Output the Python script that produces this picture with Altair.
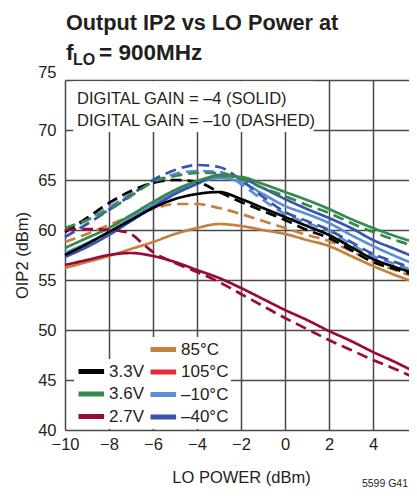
import altair as alt
import pandas as pd

# ---- data ----
XS = [-10, -9, -8, -7, -6, -5, -4, -3, -2, -1, 0, 1, 2, 3, 4, 5, 6]

V33_SOLID = [57.5, 58.6, 59.8, 61.0, 62.2, 63.1, 63.6, 63.8, 63.1, 62.2, 61.3, 60.4, 59.5, 58.3, 57.1, 56.3, 55.6]
V33_DASH = [59.8, 61.2, 62.7, 63.9, 64.7, 65.0, 64.8, 63.8, 62.8, 61.9, 61.0, 60.0, 59.2, 58.0, 56.8, 56.1, 55.4]
V36_SOLID = [58.2, 59.2, 60.2, 61.5, 62.8, 64.0, 64.9, 65.4, 65.3, 64.6, 63.8, 63.0, 62.1, 61.1, 60.2, 59.4, 58.7]
V36_DASH = [60.2, 61.0, 62.0, 63.4, 64.8, 65.4, 65.7, 65.7, 65.1, 64.2, 63.4, 62.5, 61.7, 60.7, 59.8, 59.0, 58.3]
V27_SOLID = [56.5, 57.0, 57.5, 57.7, 57.4, 56.8, 56.0, 55.2, 54.2, 53.1, 52.0, 51.0, 49.9, 48.9, 47.8, 46.8, 45.7]
XS_V27_DASH = [-10, -9, -8, -7.5, -7, -6.5, -6, -5.5, -5, -4, -3, -2, -1, 0, 1, 2, 3, 4, 5, 6]
V27_DASH = [60.0, 60.1, 60.0, 59.9, 59.6, 58.7, 57.8, 57.2, 56.7, 55.8, 54.8, 53.6, 52.4, 51.2, 50.1, 49.0, 48.0, 47.0, 46.1, 45.1]
T85_SOLID = [56.2, 56.8, 57.4, 58.1, 58.8, 59.6, 60.2, 60.6, 60.4, 60.0, 59.6, 59.0, 58.4, 57.4, 56.4, 55.5, 54.7]
T85_DASH = [58.8, 59.6, 60.5, 61.4, 62.1, 62.6, 62.6, 62.2, 61.6, 60.9, 60.2, 59.5, 58.9, 57.9, 56.8, 56.0, 55.2]
TM10_SOLID = [57.7, 58.7, 59.8, 61.2, 62.5, 63.8, 64.7, 65.2, 64.8, 63.6, 62.4, 61.6, 60.7, 59.5, 58.4, 57.4, 56.5]
TM10_DASH = [59.8, 61.0, 62.3, 63.6, 64.8, 65.6, 65.9, 65.8, 64.6, 63.0, 61.6, 60.7, 59.9, 58.6, 57.4, 56.6, 55.8]
TM40_SOLID = [57.3, 58.3, 59.5, 60.9, 62.3, 63.6, 64.6, 65.5, 65.2, 64.2, 63.1, 62.1, 61.2, 60.2, 59.0, 58.1, 57.2]
TM40_DASH = [59.3, 60.6, 62.0, 63.5, 65.0, 66.0, 66.5, 66.3, 65.0, 63.3, 61.8, 60.9, 60.0, 58.8, 57.6, 56.8, 56.0]

V_LABELS = ["3.3V", "3.6V", "2.7V"]
V_COLORS = ["#000000", "#35894b", "#990a3a"]
T_LABELS = ["85°C", "105°C", "–10°C", "–40°C"]
T_COLORS = ["#c5803d", "#e62a3c", "#5b8fd5", "#3953b0"]
GAINS = ["–4", "–10"]

X_TICKS = [-10, -8, -6, -4, -2, 0, 2, 4, 6]
Y_TICKS = [40, 45, 50, 55, 60, 65, 70, 75]

TITLE_1 = "Output IP2 vs LO Power at"
TITLE_F = "f"
TITLE_SUB = "LO"
TITLE_2 = "= 900MHz"
NOTE_LINES = ["DIGITAL GAIN = –4 (SOLID)", "DIGITAL GAIN = –10 (DASHED)"]
CODE = "5599 G41"

rows = []


def add(label, fam, gain, xs, ys):
    for x, y in zip(xs, ys):
        rows.append({"x": x, "y": y, "label": label, "fam": fam, "gain": gain,
                     "key": label + gain})


add("3.3V", "V", "–4", XS, V33_SOLID)
add("3.3V", "V", "–10", XS, V33_DASH)
add("3.6V", "V", "–4", XS, V36_SOLID)
add("3.6V", "V", "–10", XS, V36_DASH)
add("2.7V", "V", "–4", XS, V27_SOLID)
add("2.7V", "V", "–10", XS_V27_DASH, V27_DASH)
add("85°C", "T", "–4", XS, T85_SOLID)
add("85°C", "T", "–10", XS, T85_DASH)
add("–10°C", "T", "–4", XS, TM10_SOLID)
add("–10°C", "T", "–10", XS, TM10_DASH)
add("–40°C", "T", "–4", XS, TM40_SOLID)
add("–40°C", "T", "–10", XS, TM40_DASH)
df = pd.DataFrame(rows)

FONT = "Liberation Sans Narrow, Arial Narrow, Liberation Sans, Arial, sans-serif"
INK = "#231f20"

xscale = alt.Scale(domain=[-10, 6], nice=False, zero=False)
yscale = alt.Scale(domain=[40, 75], nice=False, zero=False)

xenc = alt.X("x:Q", scale=xscale, axis=alt.Axis(
    values=X_TICKS, grid=True, ticks=False, domain=False, labelFlush=False,
    labelFont=FONT, labelFontSize=16.5, labelColor=INK, labelPadding=6,
    title="LO POWER (dBm)", titleFont=FONT, titleFontSize=16.5, titleFontWeight="normal",
    titleColor=INK, titleY=47, titleBaseline="middle",
    gridColor="#4a4a4a", gridWidth=1.5))
yenc = alt.Y("y:Q", scale=yscale, axis=alt.Axis(
    values=Y_TICKS, grid=True, ticks=False, domain=False,
    labelFont=FONT, labelFontSize=16.5, labelColor=INK, labelPadding=9,
    labelBaseline={"condition": {"test": "datum.value === 75", "value": "bottom"}, "value": "middle"},
    title="OIP2 (dBm)", titleFont=FONT, titleFontSize=16.5, titleFontWeight="normal",
    titleColor=INK, titleX=-43, titleY=175, titleBaseline="middle",
    gridColor="#4a4a4a", gridWidth=1.5))

dash = alt.StrokeDash("gain:N", scale=alt.Scale(domain=GAINS, range=[[1, 0], [11, 6]]), legend=None)

LEG_COMMON = dict(orient="none", title=None, fillColor="white",
                  symbolType="M-1,0H2.2", symbolSize=256, symbolStrokeWidth=5,
                  symbolOpacity=1, labelFont=FONT, labelFontSize=17, labelColor=INK,
                  labelOffset=12, rowPadding=1.5, padding=2)

lines_v = alt.Chart(df).transform_filter(alt.datum.fam == "V").mark_line(
    strokeWidth=2.7, interpolate="monotone").encode(
    x=xenc, y=yenc,
    color=alt.Color("label:N", scale=alt.Scale(domain=V_LABELS, range=V_COLORS),
                    legend=alt.Legend(legendX=9, legendY=279, **LEG_COMMON)),
    strokeDash=dash, detail="key:N")

lines_t = alt.Chart(df).transform_filter(alt.datum.fam == "T").mark_line(
    strokeWidth=2.7, interpolate="monotone").encode(
    x=xenc, y=yenc,
    stroke=alt.Stroke("label:N", scale=alt.Scale(domain=T_LABELS, range=T_COLORS),
                      legend=alt.Legend(legendX=81, legendY=257, **LEG_COMMON)),
    strokeDash=dash, detail="key:N")

base = alt.Chart(pd.DataFrame({"a": [0]}))

note_box = base.mark_rect(color="white").encode(
    x=alt.X(datum=-9.63, scale=xscale), x2=alt.X2(datum=1.3),
    y=alt.Y(datum=74.88, scale=yscale), y2=alt.Y2(datum=69.8))
note = base.mark_text(align="left", baseline="middle", font=FONT, fontSize=16.5,
                      color=INK, lineHeight=22).encode(
    x=alt.X(datum=-9.45, scale=xscale), y=alt.Y(datum=73.1, scale=yscale),
    text=alt.value(NOTE_LINES))

tfont = dict(font=FONT, fontWeight="bold", color=INK, align="left", baseline="alphabetic")
t1 = base.mark_text(fontSize=21.7, **tfont).encode(
    x=alt.value(1), y=alt.value(-50), text=alt.value(TITLE_1))
t2 = base.mark_text(fontSize=22.5, **tfont).encode(
    x=alt.value(1), y=alt.value(-20), text=alt.value(TITLE_F))
t3 = base.mark_text(fontSize=16, **tfont).encode(
    x=alt.value(8), y=alt.value(-15), text=alt.value(TITLE_SUB))
t4 = base.mark_text(fontSize=22.5, **tfont).encode(
    x=alt.value(34), y=alt.value(-20), text=alt.value(TITLE_2))
code = base.mark_text(font=FONT, fontSize=10.5, color=INK, align="right",
                      baseline="middle").encode(
    x=alt.value(343), y=alt.value(404), text=alt.value(CODE))

chart = alt.layer(note_box, lines_t, lines_v, note, t1, t2, t3, t4, code).resolve_scale(
    color="independent").properties(
    width=352, height=350,
    autosize=alt.AutoSizeParams(type="none"),
    padding={"left": 57, "top": 72, "right": -8, "bottom": 60},
).configure_view(stroke="black", strokeWidth=2).configure(background="white")

chart.save("out.html", embed_options={"renderer": "svg", "actions": False})
